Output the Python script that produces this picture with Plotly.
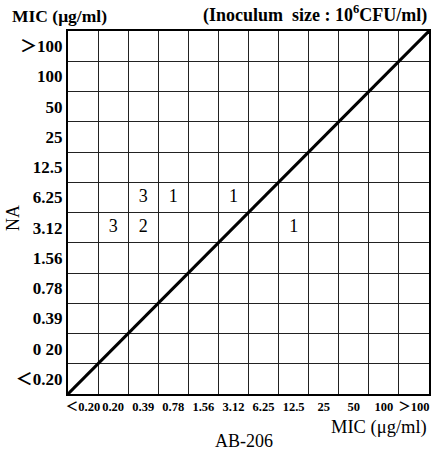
import plotly.graph_objects as go

# categories (low -> high)
x_labels = ["＜0.20", "0.20", "0.39", "0.78", "1.56", "3.12", "6.25", "12.5", "25", "50", "100", "＞100"]
y_labels = ["＜0.20", "0 20", "0.39", "0.78", "1.56", "3.12", "6.25", "12.5", "25", "50", "100", "＞100"]

# counts: (AB-206 MIC category, NA MIC category, number of strains)
pt_x = ["0.20", "0.39", "12.5", "0.39", "0.78", "3.12"]
pt_y = ["3.12", "3.12", "3.12", "6.25", "6.25", "6.25"]
pt_n = [3, 2, 1, 3, 1, 1]

xi = [x_labels.index(v) + 0.5 for v in pt_x]
yi = [y_labels.index(v) + 0.5 for v in pt_y]
n = len(x_labels)

SERIF = "'Liberation Serif', 'Noto Sans CJK JP', serif"

fig = go.Figure()
fig.add_trace(go.Scatter(x=[0, n], y=[0, len(y_labels)], mode="lines",
                         line=dict(color="black", width=3), hoverinfo="skip"))
fig.add_trace(go.Scatter(x=xi, y=yi, mode="text", text=[str(v) for v in pt_n],
                         textfont=dict(family=SERIF, size=18, color="black")))

fig.update_layout(
    width=435, height=451,
    margin=dict(l=68, r=4, t=31, b=57),
    plot_bgcolor="white", paper_bgcolor="white",
    showlegend=False,
    xaxis=dict(range=[0, n], tickvals=[i + 0.5 for i in range(n)], ticktext=x_labels,
               tickangle=0,
               showgrid=False, zeroline=False, ticks="", ticklen=0,
               showline=True, mirror=True, linecolor="black", linewidth=2,
               tickfont=dict(family=SERIF, size=12.5, color="black", weight="bold"),
               minor=dict(showgrid=True, tick0=0, dtick=1, gridcolor="#222", gridwidth=1)),
    yaxis=dict(range=[0, len(y_labels)], tickvals=[i + 0.5 for i in range(len(y_labels))],
               ticktext=y_labels,
               showgrid=False, zeroline=False, ticks="", ticklen=0,
               showline=True, mirror=True, linecolor="black", linewidth=2,
               tickfont=dict(family=SERIF, size=17, color="black", weight="bold"),
               minor=dict(showgrid=True, tick0=0, dtick=1, gridcolor="#222", gridwidth=1)),
)

fig.add_annotation(text="MIC (μg/ml)", xref="paper", yref="paper", x=-0.16, y=1.0,
                   xanchor="left", yanchor="bottom", yshift=3, showarrow=False,
                   font=dict(family=SERIF, size=17.5, color="black", weight="bold"))
fig.add_annotation(text="(Inoculum  size : 10<sup>6</sup>CFU/ml)", xref="paper", yref="paper",
                   x=1.0, y=1.0, xanchor="right", yanchor="bottom", yshift=3, showarrow=False,
                   font=dict(family=SERIF, size=18, color="black", weight="bold"))
fig.add_annotation(text="MIC (μg/ml)", xref="paper", yref="paper", x=1.0, y=0,
                   xanchor="right", yanchor="top", yshift=-21, showarrow=False,
                   font=dict(family=SERIF, size=18.5, color="black"))
fig.add_annotation(text="AB-206", xref="paper", yref="paper", x=0.488, y=0,
                   xanchor="center", yanchor="top", yshift=-35, showarrow=False,
                   font=dict(family=SERIF, size=18, color="black"))
fig.add_annotation(text="NA", xref="paper", yref="paper", x=-0.152, y=0.485,
                   xanchor="center", yanchor="middle", textangle=-90, showarrow=False,
                   font=dict(family=SERIF, size=18, color="black"))

fig.write_html("out.html", config={"displayModeBar": False},
               post_script="document.body.style.margin='0';")
